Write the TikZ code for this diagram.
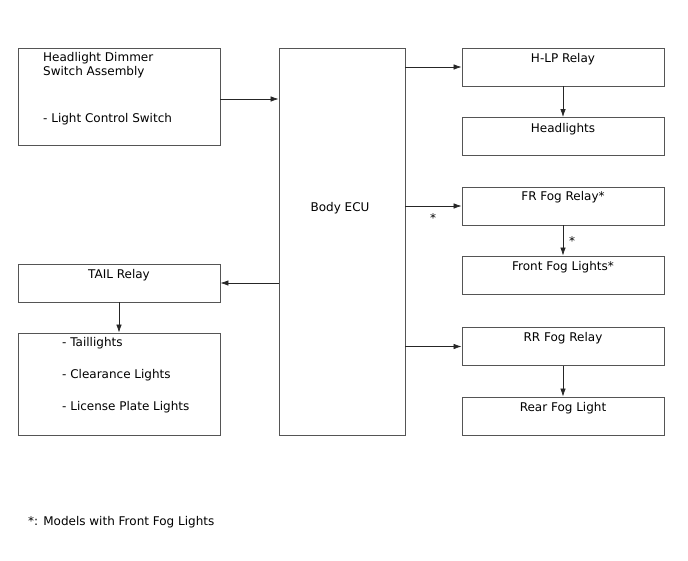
\documentclass[tikz,border=0pt]{standalone}
\usepackage{fontspec}
\setmainfont{DejaVu Sans}
\usetikzlibrary{arrows.meta}
\definecolor{boxgray}{RGB}{85,85,85}

\tikzset{
    blockbox/.style={rectangle, draw=boxgray, line width=0.9pt, inner sep=0pt},
    boxtext/.style={inner sep=0pt, font=\fontsize{12}{13.5}\selectfont},
    flow/.style={-{Latex[length=8pt,width=5.5pt]}, line width=0.7pt, draw=black!85}
}

\begin{document}
\begin{tikzpicture}[x=1pt, y=-1pt]
    \useasboundingbox (0,0) rectangle (688,560);

    % Headlight dimmer switch
    \node[blockbox, minimum width=202pt, minimum height=97pt] (dimmer) at (119,96.5) {};
    \node[boxtext, anchor=north west, align=left] (dimmertxt) at (43,52.5) {Headlight Dimmer\\Switch Assembly};
    \node[boxtext, anchor=west] (lcs) at (43,119) {- Light Control Switch};

    % Body ECU
    \node[blockbox, minimum width=126pt, minimum height=387pt] (ecu) at (342,241.5) {};
    \node[boxtext] (ecutxt) at (340,208) {Body ECU};

    % Right side relays and lights
    \node[blockbox, minimum width=202pt, minimum height=38pt] (hlp) at (563,67) {};
    \node[boxtext] (hlptxt) at (563,59.5) {H-LP Relay};
    \node[blockbox, minimum width=202pt, minimum height=38pt] (head) at (563,136.5) {};
    \node[boxtext] (headtxt) at (563,129.5) {Headlights};
    \node[blockbox, minimum width=202pt, minimum height=38pt] (frfog) at (563,206) {};
    \node[boxtext] (frfogtxt) at (563,197.5) {FR Fog Relay*};
    \node[blockbox, minimum width=202pt, minimum height=38pt] (ffl) at (563,275) {};
    \node[boxtext] (ffltxt) at (563,267) {Front Fog Lights*};
    \node[blockbox, minimum width=202pt, minimum height=38pt] (rrfog) at (563,346.5) {};
    \node[boxtext] (rrfogtxt) at (563,338.5) {RR Fog Relay};
    \node[blockbox, minimum width=202pt, minimum height=38pt] (rfl) at (563,416) {};
    \node[boxtext] (rfltxt) at (563,408) {Rear Fog Light};

    % Left side tail relay and lights
    \node[blockbox, minimum width=202pt, minimum height=38pt] (tail) at (119,283) {};
    \node[boxtext] (tailtxt) at (119,275) {TAIL Relay};
    \node[blockbox, minimum width=202pt, minimum height=102pt] (lamps) at (119,384) {};
    \node[boxtext, anchor=west] (taill) at (62,343.5) {- Taillights};
    \node[boxtext, anchor=west] (clear) at (62,375.5) {- Clearance Lights};
    \node[boxtext, anchor=west] (lic) at (62,407.5) {- License Plate Lights};

    % Arrows
    \draw[flow] (dimmer.east |- 0,99) -- (ecu.west |- 0,99);
    \draw[flow] (ecu.east |- hlp) -- (hlp.west);
    \draw[flow] (hlp) ++(0,19) -- (head.north);
    \draw[flow] (ecu.east |- frfog) -- (frfog.west);
    \draw[flow] (frfog.south) -- (ffl.north);
    \draw[flow] (ecu.west |- tail) -- (tail.east);
    \draw[flow] (tail.south) -- (lamps.north);
    \draw[flow] (ecu.east |- rrfog) -- (rrfog.west);
    \draw[flow] (rrfog.south) -- (rfl.north);

    % Asterisks
    \node[boxtext] (star1) at (433,218.5) {*};
    \node[boxtext] (star2) at (572,241.5) {*};

    % Footnote
    \node[boxtext, anchor=west] (note) at (28,522.5) {*: Models with Front Fog Lights};
\end{tikzpicture}
\end{document}
